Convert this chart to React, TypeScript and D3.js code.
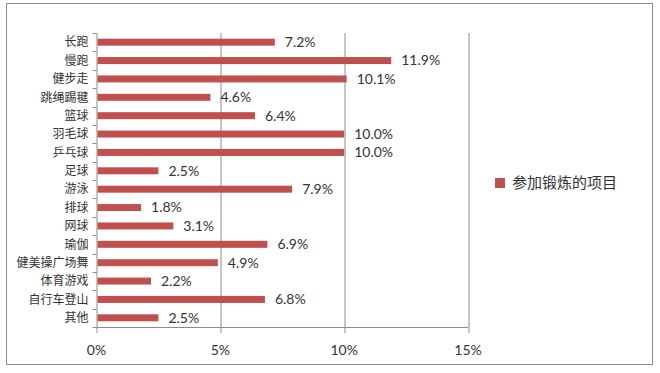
import { useEffect, useRef } from 'react'
import * as d3 from 'd3'

// ── data ─────────────────────────────────────────────────────────────────────
const categories = [
  '长跑', '慢跑', '健步走', '跳绳踢毽', '篮球', '羽毛球', '乒乓球', '足球',
  '游泳', '排球', '网球', '瑜伽', '健美操广场舞', '体育游戏', '自行车登山', '其他',
]
const values = [7.2, 11.9, 10.1, 4.6, 6.4, 10.0, 10.0, 2.5, 7.9, 1.8, 3.1, 6.9, 4.9, 2.2, 6.8, 2.5]
const xTicks = [0, 5, 10, 15]
const seriesName = '参加锻炼的项目'

// ── constants ────────────────────────────────────────────────────────────────
const W = 660
const H = 373
const M = { top: 33, left: 96.5, right: 192, bottom: 46 }
const BAR = '#C0504D'
const AXIS = '#8c8c8c'
const TXT = '#333333'
const CJK = '"Noto Sans CJK SC", sans-serif'
const NUM = 'Lato, "Noto Sans", sans-serif'

export default function App() {
  const ref = useRef<SVGSVGElement>(null)

  useEffect(() => {
    if (!ref.current) return
    const svg = d3.select(ref.current)
    svg.selectAll('*').remove()

    const iW = W - M.left - M.right
    const iH = H - M.top - M.bottom

    // outer frame
    svg.append('rect')
      .attr('x', 6.5).attr('y', 3.5).attr('width', 646).attr('height', 361)
      .attr('fill', '#fff').attr('stroke', AXIS).attr('stroke-width', 1)

    const g = svg.append('g').attr('transform', `translate(${M.left},${M.top})`)

    const x = d3.scaleLinear().domain([0, 15]).range([0, iW])
    const y = d3.scaleBand<string>().domain(categories).range([0, iH]).paddingInner(0.62).paddingOuter(0.31)
    const step = y.step()

    // vertical gridlines (5%, 10%, 15%) extending into tick marks
    g.append('g')
      .selectAll('line')
      .data(xTicks)
      .join('line')
        .attr('x1', d => Math.round(x(d)) + 0.5).attr('x2', d => Math.round(x(d)) + 0.5)
        .attr('y1', 0).attr('y2', iH + 6)
        .attr('stroke', AXIS).attr('stroke-width', 1)

    // bottom axis line
    g.append('line')
      .attr('x1', 0).attr('x2', x(15))
      .attr('y1', iH + 0.5).attr('y2', iH + 0.5)
      .attr('stroke', AXIS)

    // category tick marks on left axis
    g.append('g')
      .selectAll('line')
      .data(d3.range(categories.length + 1))
      .join('line')
        .attr('x1', -4).attr('x2', 0)
        .attr('y1', i => Math.round(i * step) + 0.5).attr('y2', i => Math.round(i * step) + 0.5)
        .attr('stroke', AXIS)

    // x tick labels
    g.append('g')
      .selectAll('text')
      .data(xTicks)
      .join('text')
        .attr('x', d => x(d)).attr('y', iH + 28)
        .attr('text-anchor', 'middle')
        .attr('font-family', NUM).attr('font-size', 14).attr('fill', TXT)
        .text(d => `${d}%`)

    // category labels
    g.append('g')
      .selectAll('text')
      .data(categories)
      .join('text')
        .attr('x', -8).attr('y', d => (y(d) ?? 0) + y.bandwidth() / 2)
        .attr('dy', '0.35em')
        .attr('text-anchor', 'end')
        .attr('font-family', CJK).attr('font-size', 12).attr('fill', TXT)
        .text(d => d)

    // bars
    g.append('g')
      .selectAll('rect')
      .data(values)
      .join('rect')
        .attr('x', 1)
        .attr('y', (_, i) => y(categories[i]) ?? 0)
        .attr('width', d => x(d) - 1)
        .attr('height', y.bandwidth())
        .attr('fill', BAR)

    // value labels
    g.append('g')
      .selectAll('text')
      .data(values)
      .join('text')
        .attr('x', d => x(d) + 10)
        .attr('y', (_, i) => (y(categories[i]) ?? 0) + y.bandwidth() / 2)
        .attr('dy', '0.35em')
        .attr('font-family', NUM).attr('font-size', 14).attr('fill', TXT)
        .text(d => `${d.toFixed(1)}%`)

    // legend
    const lg = svg.append('g').attr('transform', 'translate(495,178)')
    lg.append('rect').attr('width', 10).attr('height', 10).attr('fill', BAR)
    lg.append('text')
      .attr('x', 17).attr('y', 5).attr('dy', '0.35em')
      .attr('font-family', CJK).attr('font-size', 15).attr('fill', TXT)
      .text(seriesName)
  }, [])

  return (
    <svg
      ref={ref}
      width={W}
      height={H}
      viewBox={`0 0 ${W} ${H}`}
      style={{ position: 'absolute', left: 0, top: 0, display: 'block', background: '#fff' }}
    />
  )
}
